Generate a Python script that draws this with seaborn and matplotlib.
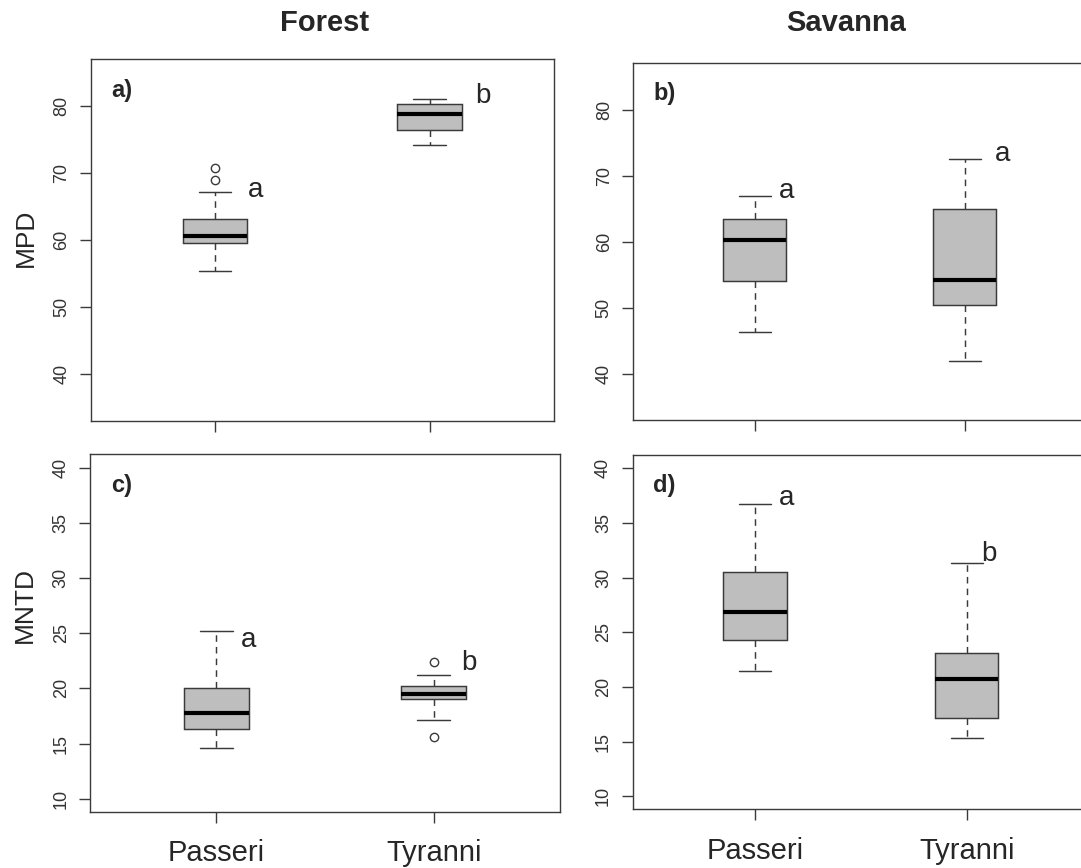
import matplotlib

matplotlib.use("Agg")
import matplotlib.pyplot as plt
import pandas as pd
import seaborn as sns

groups = ["Passeri", "Tyranni"]

# five-number summaries:
# lower whisker, Q1, median, Q3, upper whisker
forest_mpd_passeri = [55.3, 59.5, 60.55, 63.1, 67.2]
forest_mpd_tyranni = [74.2, 76.4, 78.8, 80.35, 81.0]
savanna_mpd_passeri = [46.3, 54.1, 60.2, 63.4, 66.9]
savanna_mpd_tyranni = [41.9, 50.4, 54.2, 65.0, 72.5]
forest_mntd_passeri = [14.6, 16.35, 17.75, 20.0, 25.2]
forest_mntd_tyranni = [17.1, 19.0, 19.5, 20.2, 21.2]
savanna_mntd_passeri = [21.5, 24.25, 26.9, 30.55, 36.7]
savanna_mntd_tyranni = [15.3, 17.2, 20.7, 23.1, 31.3]

# outliers
forest_mpd_outliers_passeri = [69.0, 70.7]
forest_mntd_outliers_tyranni = [15.6, 22.4]

# significance letters: (label, x in category units, y)
letters_a = [("a", 0.19, 67.5), ("b", 1.25, 81.5)]
letters_b = [("a", 0.15, 67.7), ("a", 1.18, 73.3)]
letters_c = [("a", 0.15, 24.4), ("b", 1.16, 22.3)]
letters_d = [("a", 0.15, 37.3), ("b", 1.105, 32.2)]

mpd_ticks = [40, 50, 60, 70, 80]
mntd_ticks = [10, 15, 20, 25, 30, 35, 40]

sns.set_style("ticks")
plt.rcParams["font.family"] = ["Liberation Sans", "DejaVu Sans"]

LINE = "#3a3a3a"
FILL = "#bebebe"


def summary_frame(passeri, tyranni):
    return pd.DataFrame(
        {
            "group": [groups[0]] * len(passeri) + [groups[1]] * len(tyranni),
            "value": passeri + tyranni,
        }
    )


def draw_panel(ax, passeri, tyranni, outliers, letters, tag, ylim, yticks, xlabels):
    df = summary_frame(passeri, tyranni)
    sns.boxplot(
        data=df,
        x="group",
        y="value",
        order=groups,
        ax=ax,
        width=0.3,
        whis=(0, 100),
        color=FILL,
        saturation=1,
        linecolor=LINE,
        linewidth=1.05,
        showfliers=False,
        medianprops={"color": "black", "linewidth": 3},
        whiskerprops={"linestyle": (0, (4.5, 3.5)), "color": LINE},
        capprops={"color": LINE},
    )
    if outliers:
        out = pd.DataFrame({"group": [g for g, v in outliers for _ in v],
                            "value": [x for _, v in outliers for x in v]})
        sns.stripplot(
            data=out,
            x="group",
            y="value",
            order=groups,
            ax=ax,
            jitter=False,
            color="white",
            edgecolor=LINE,
            linewidth=1.0,
            size=6,
            zorder=5,
        )
    for label, xpos, ypos in letters:
        ax.text(xpos, ypos, label, fontsize=20, ha="center", va="center")
    ax.text(0.045, 0.914, tag, transform=ax.transAxes, fontsize=17,
            fontweight="bold", ha="left", va="center")

    ax.set_xlim(-0.58, 1.58)
    ax.set_ylim(*ylim)
    ax.set_yticks(yticks)
    ax.set_xlabel("")
    ax.set_ylabel("")
    ax.tick_params(axis="both", length=7.7, width=1.0, color=LINE, direction="out")
    ax.tick_params(axis="y", labelsize=13, labelcolor="#333333", pad=7)
    plt.setp(ax.get_yticklabels(), rotation=90, va="center")
    if xlabels:
        ax.tick_params(axis="x", labelsize=21, pad=12)
    else:
        ax.tick_params(axis="x", labelbottom=False)
    for side in ["left", "right", "top", "bottom"]:
        ax.spines[side].set_visible(True)
        ax.spines[side].set_color(LINE)
        ax.spines[side].set_linewidth(1.0)


W, H = 1081, 868
fig = plt.figure(figsize=(W / 100, H / 100), dpi=100)


def axes_px(left, top, right, bottom):
    return fig.add_axes([left / W, 1 - bottom / H, (right - left) / W, (bottom - top) / H])


ax_a = axes_px(90.9, 59.0, 553.8, 420.7)
ax_b = axes_px(633.2, 63.3, 1086.6, 420.0)
ax_c = axes_px(90.2, 454.3, 559.7, 812.0)
ax_d = axes_px(632.5, 455.3, 1089.4, 809.3)

mpd_lim = (33.0, 87.0)
mntd_lim = (8.8, 41.2)

draw_panel(ax_a, forest_mpd_passeri, forest_mpd_tyranni,
           [(groups[0], forest_mpd_outliers_passeri)], letters_a, "a)",
           mpd_lim, mpd_ticks, False)
draw_panel(ax_b, savanna_mpd_passeri, savanna_mpd_tyranni, [], letters_b, "b)",
           mpd_lim, mpd_ticks, False)
draw_panel(ax_c, forest_mntd_passeri, forest_mntd_tyranni,
           [(groups[1], forest_mntd_outliers_tyranni)], letters_c, "c)",
           mntd_lim, mntd_ticks, True)
draw_panel(ax_d, savanna_mntd_passeri, savanna_mntd_tyranni, [], letters_d, "d)",
           mntd_lim, mntd_ticks, True)

fig.text(325 / W, 1 - 23 / H, "Forest", fontsize=21, fontweight="bold",
         ha="center", va="center")
fig.text(846 / W, 1 - 23 / H, "Savanna", fontsize=21, fontweight="bold",
         ha="center", va="center")
fig.text(26 / W, 1 - 238 / H, "MPD", fontsize=19, rotation=90,
         ha="center", va="center")
fig.text(25 / W, 1 - 605 / H, "MNTD", fontsize=19, rotation=90,
         ha="center", va="center")

fig.savefig("out.png", dpi=100)
